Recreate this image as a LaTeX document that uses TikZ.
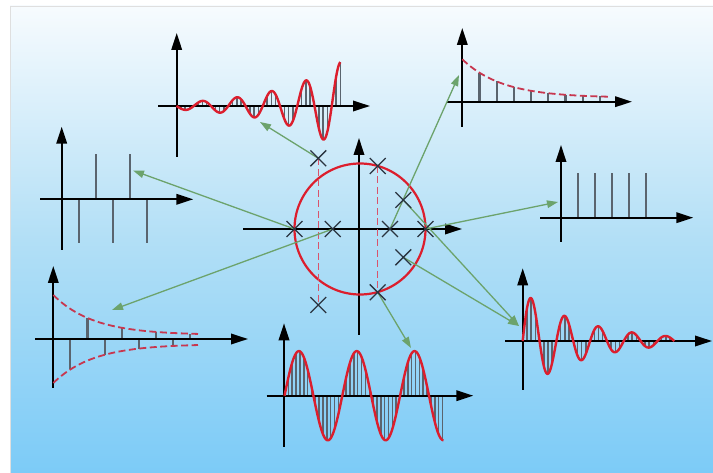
\documentclass[tikz,border=0pt]{standalone}
\usetikzlibrary{arrows.meta,shapes.misc}
\definecolor{bgtop}{HTML}{F7FBFE}
\definecolor{bgmid}{HTML}{B2DFF6}
\definecolor{bgbot}{HTML}{7CCBF7}
\definecolor{sigred}{HTML}{DC1E2D}
\definecolor{envred}{HTML}{C8374F}
\definecolor{stemgray}{HTML}{5A646E}
\definecolor{conngreen}{HTML}{6CA36C}
\definecolor{polecol}{HTML}{2A3440}
\definecolor{dashpink}{HTML}{D9536B}
\begin{document}
\begin{tikzpicture}[x=1pt,y=-1pt,
 axis/.style={line width=1.9pt,-{Triangle[length=17pt,width=10.5pt]}},
 wave/.style={sigred,line width=2.4pt,line join=round},
 envelope/.style={envred,line width=1.8pt,dash pattern=on 7pt off 3.5pt},
 stem/.style={stemgray,line width=1.5pt},
 impulse/.style={stemgray,line width=2.1pt},
 conn/.style={conngreen,line width=1.3pt,-{Triangle[length=11pt,width=7.5pt]}},
 pole/.style={cross out,draw=polecol,line width=1.3pt,minimum size=14.5pt,inner sep=0pt},
 polar/.style={dashpink,line width=1.5pt,dash pattern=on 7pt off 3.5pt},
 unitcircle/.style={sigred,line width=2.2pt}]

\useasboundingbox (0,0) rectangle (713,473);
\fill[white] (0,0) rectangle (713,473);
\shade[top color=bgtop,bottom color=bgbot,middle color=bgmid] (10,6) rectangle (713,473);
\draw[gray!25,line width=0.8pt] (10,473) -- (10,6) -- (713,6);

% ---------- top-left: growing oscillation ----------
\foreach \k in {1,...,38}{
 \pgfmathsetmacro{\xx}{176.5+\k*34.5/8}
 \pgfmathsetmacro{\yy}{106+3.4*exp(0.0156*(\xx-176.5))*sin(10.4348*(\xx-176.5))}
 \draw[stem] (\xx,106) -- (\xx,\yy);
}
\draw[axis] (176.7,157) -- (176.7,33);
\draw[axis] (158,106) -- (370,106);
\draw[wave] plot[domain=176.5:340.4,samples=220] (\x,{106+3.4*exp(0.0156*(\x-176.5))*sin(10.4348*(\x-176.5))});

% ---------- top-right: decaying positive ----------
\foreach \k in {1,...,8}{
 \pgfmathsetmacro{\xx}{462.3+17.2*\k}
 \pgfmathsetmacro{\yy}{101.7-4-38.4*exp(-0.025*17.2*\k)}
 \draw[impulse] (\xx,101.7) -- (\xx,\yy);
}
\draw[axis] (462.3,127) -- (462.3,28);
\draw[axis] (446.7,101.7) -- (632,101.7);
\draw[envelope] plot[domain=462.3:608,samples=60] (\x,{101.7-4-38.4*exp(-0.025*(\x-462.3))});

% ---------- left: alternating constant ----------
\foreach \xx in {79,113,147} \draw[impulse] (\xx,199.3) -- (\xx,243.3);
\foreach \xx in {96,130} \draw[impulse] (\xx,199.3) -- (\xx,154.3);
\draw[axis] (61.7,250) -- (61.7,126.7);
\draw[axis] (40,199.3) -- (193.3,199.3);

% ---------- left-bottom: decaying alternating ----------
\foreach \k in {1,3,5,7}{
 \pgfmathsetmacro{\xx}{53.3+17.1*\k}
 \pgfmathsetmacro{\yy}{339+5+39*exp(-0.025*17.1*\k)}
 \draw[impulse] (\xx,339) -- (\xx,\yy);
}
\foreach \k in {2,4,6,8}{
 \pgfmathsetmacro{\xx}{53.3+17.1*\k}
 \pgfmathsetmacro{\yy}{339-4-40*exp(-0.025*17.1*\k)}
 \draw[impulse] (\xx,339) -- (\xx,\yy);
}
\draw[axis] (53.3,388) -- (53.3,266);
\draw[axis] (35,339) -- (248,339);
\draw[envelope] plot[domain=53.3:198,samples=60] (\x,{339-4-40*exp(-0.025*(\x-53.3))});
\draw[envelope] plot[domain=53.3:198,samples=60] (\x,{339+5+39*exp(-0.025*(\x-53.3))});

% ---------- right: constant impulse train ----------
\foreach \k in {0,...,4} \draw[impulse] ({577.7+17.1*\k},217.7) -- ({577.7+17.1*\k},173.3);
\draw[axis] (561,241.7) -- (561,145);
\draw[axis] (540,217.7) -- (693.3,217.7);

% ---------- bottom: sine ----------
\foreach \k in {1,...,41}{
 \pgfmathsetmacro{\xx}{284.5+\k*57.8/15}
 \pgfmathsetmacro{\yy}{395.7-44.6*sin(6.2284*(\xx-284.5))}
 \draw[stem] (\xx,395.7) -- (\xx,\yy);
}
\draw[axis] (284,446.7) -- (284,323.3);
\draw[axis] (266.7,395.7) -- (473.3,395.7);
\draw[wave] plot[domain=284.5:443.5,samples=200] (\x,{395.7-44.6*sin(6.2284*(\x-284.5))});

% ---------- right-bottom: damped oscillation ----------
\foreach \k in {1,...,36}{
 \pgfmathsetmacro{\xx}{522.7+\k*33.7/8}
 \pgfmathsetmacro{\yy}{341-49*exp(-0.0159*(\xx-522.7))*sin(10.6825*(\xx-522.7))}
 \draw[stem] (\xx,341) -- (\xx,\yy);
}
\draw[axis] (522.7,390) -- (522.7,268.3);
\draw[axis] (505,341) -- (712,341);
\draw[wave] plot[domain=522.7:674.4,samples=200] (\x,{341-49*exp(-0.0159*(\x-522.7))*sin(10.6825*(\x-522.7))});

% ---------- centre: pole-zero plane ----------
\draw[axis] (359,335) -- (359,138);
\draw[axis] (243,229) -- (462,229);
\draw[unitcircle] (360,229) circle[radius=65.5];

\coordinate (z1) at (294.5,229);
\coordinate (z2) at (332.7,229);
\coordinate (z3) at (390,229);
\coordinate (z4) at (425.5,229);
\coordinate (z5) at (318.3,158.3);
\coordinate (z6) at (318.3,305);
\coordinate (z7) at (377.7,166);
\coordinate (z8) at (377.7,292.3);
\coordinate (z9) at (403.3,200);
\coordinate (z10) at (403.3,257.3);

\draw[polar] (z5) -- (z6);
\draw[polar] (z7) -- (z8);

\coordinate (t1) at (260,122);
\coordinate (t2) at (133,170.5);
\coordinate (t3) at (112,310);
\coordinate (t4) at (459,75);
\coordinate (t5) at (558,202);
\coordinate (t6) at (519,326);
\coordinate (t8) at (411,348);

\draw[conn] (z5) -- (t1);
\draw[conn] (z1) -- (t2);
\draw[conn] (z2) -- (t3);
\draw[conn] (z3) -- (t4);
\draw[conn] (z4) -- (t5);
\draw[conn] (z9) -- (t6);
\draw[conn] (z10) -- (t6);
\draw[conn] (z8) -- (t8);

\foreach \i in {1,...,10} \node[pole] (p\i) at (z\i) {};
\end{tikzpicture}
\end{document}
